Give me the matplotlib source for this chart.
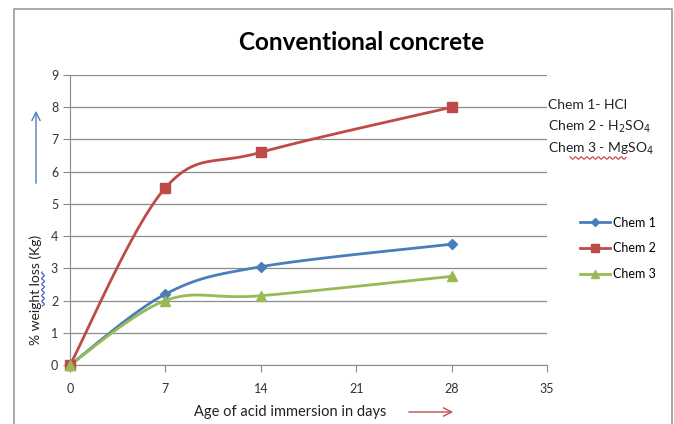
import matplotlib.pyplot as plt
import numpy as np
from matplotlib.patches import FancyArrowPatch

days = [0, 7, 14, 28]
chem1 = [0, 2.2, 3.05, 3.75]
chem2 = [0, 5.5, 6.6, 8.0]
chem3 = [0, 2.0, 2.15, 2.75]
series_names = ['Chem 1', 'Chem 2', 'Chem 3']
notes = ['Chem 1- HCl', 'Chem 2 - H$_2$SO$_4$', 'Chem 3 - MgSO$_4$']

plt.rcParams['font.family'] = ['Lato', 'DejaVu Sans']


def smooth(xs, ys, sx, sy, n=40):
    # bezier smoothing like a spreadsheet "smoothed line", done in screen-ish units
    p = np.column_stack([np.asarray(xs) * sx, np.asarray(ys) * sy])
    out = [p[0]]
    for i in range(len(p) - 1):
        p0 = p[i - 1] if i > 0 else p[i]
        p1, p2 = p[i], p[i + 1]
        p3 = p[i + 2] if i + 2 < len(p) else p[i + 1]
        c1 = p1 + (p2 - p0) / 6
        c2 = p2 - (p3 - p1) / 6
        t = np.linspace(0, 1, n)[1:, None]
        seg = ((1 - t) ** 3) * p1 + 3 * ((1 - t) ** 2) * t * c1 + 3 * (1 - t) * t ** 2 * c2 + t ** 3 * p2
        out.extend(seg)
    out = np.array(out)
    return out[:, 0] / sx, out[:, 1] / sy


fig = plt.figure(figsize=(6.74, 4.24), dpi=100)
ax = fig.add_axes([70 / 674, 59 / 424, 477 / 674, 290 / 424])

colors = ['#4A7EBB', '#BE4B48', '#98B954']
markers = ['D', 's', '^']
msizes = [5, 7, 7]
for vals, name, c, m, ms in zip([chem1, chem2, chem3], series_names, colors, markers, msizes):
    sx_, sy_ = smooth(days, vals, 477 / 35, 290 / 9)
    ax.plot(sx_, sy_, color=c, lw=2.0, clip_on=False, zorder=3)
    ax.plot(days, vals, ls='none', marker=m, ms=ms, color=c, clip_on=False, zorder=4)
    ax.plot([], [], color=c, lw=2.0, marker=m, ms=ms - 1, label=name)

ax.set_xlim(0, 35)
ax.set_ylim(0, 9)
ax.set_xticks(range(0, 36, 7))
ax.set_yticks(range(0, 10))
ax.grid(axis='y', color='#8c8c8c', lw=0.9)
ax.set_axisbelow(True)
for s in ['top', 'right']:
    ax.spines[s].set_visible(False)
for s in ['left', 'bottom']:
    ax.spines[s].set_color('#8c8c8c')
ax.tick_params(axis='both', colors='#8c8c8c', labelcolor='#333333', labelsize=9, length=5)
ax.tick_params(axis='x', pad=8)

# axis titles
fig.text(290 / 674, 1 - 412 / 424, 'Age of acid immersion in days', ha='center', va='center',
         fontsize=10.5, color='#222222')
fig.text(36 / 674, 1 - 290 / 424, '% weight loss (Kg)', ha='center', va='center', rotation=90,
         fontsize=10, color='#222222')

fig.text(362 / 674, 1 - 42 / 424, 'Conventional concrete', ha='center', va='center',
         fontsize=17.5, fontweight='bold')

leg = ax.legend(loc='upper left', bbox_to_anchor=(1.045, 0.55), frameon=False, fontsize=9,
                handlelength=2.4, labelspacing=1.1, handletextpad=0.3)

# side notes naming each chemical
for i, t in enumerate(notes):
    fig.text(548 / 674, 1 - (105 + 22 * i) / 424, t, ha='left', va='center', fontsize=10,
             color='#222222')

# spelling squiggles
wx = np.linspace(570, 626, 80)
fig.add_artist(plt.Line2D(wx / 674, 1 - (158 + 1.2 * np.sin(wx * 1.1)) / 424, color='#d03030', lw=0.8))
wy = np.linspace(272, 306, 60)
fig.add_artist(plt.Line2D((43 + 1.3 * np.sin(wy * 1.1)) / 674, 1 - wy / 424, color='#3050c0', lw=0.8))

# direction arrows
fig.add_artist(FancyArrowPatch((36 / 674, 1 - 186 / 424), (36 / 674, 1 - 108 / 424),
                               transform=fig.transFigure, arrowstyle='->,head_width=3,head_length=6',
                               color='#4F81BD', lw=1.0))
fig.add_artist(FancyArrowPatch((406 / 674, 1 - 412 / 424), (456 / 674, 1 - 412 / 424),
                               transform=fig.transFigure, arrowstyle='->,head_width=3,head_length=6',
                               color='#C0504D', lw=1.0))

# chart border
fig.add_artist(plt.Line2D([14 / 674, 14 / 674, 672 / 674, 672 / 674],
                          [0, 1 - 9 / 424, 1 - 9 / 424, 0], color='#9a9a9a', lw=1.2))

fig.savefig('out.png', dpi=100)
